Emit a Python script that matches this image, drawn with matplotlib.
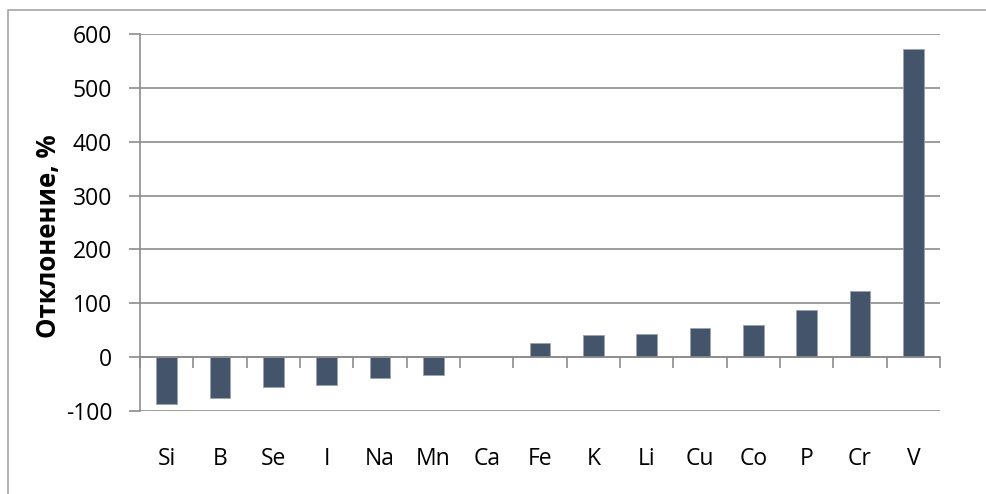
import matplotlib
matplotlib.use("Agg")
import matplotlib.pyplot as plt
from matplotlib.patches import Rectangle

categories = ["Si", "B", "Se", "I", "Na", "Mn", "Ca", "Fe", "K", "Li", "Cu", "Co", "P", "Cr", "V"]
values = [-88, -76, -55, -52, -40, -34, 0, 26, 40, 43, 53, 60, 87, 122, 572]
yticks = [-100, 0, 100, 200, 300, 400, 500, 600]
ylabel = "Отклонение, %"

plt.rcParams['font.family'] = ['Open Sans', 'DejaVu Sans']
GRID = "#8c8c8c"
BAR = "#44546A"

fig = plt.figure(figsize=(9.87, 4.94), dpi=100)
ax = fig.add_axes([140/987, 1 - 410.7/494, 800/987, (410.7 - 34.3)/494])

x = list(range(len(categories)))
ax.bar(x, values, width=0.39, color=BAR, edgecolor="#9aa3ae", linewidth=0.6, zorder=3)

ax.set_xlim(-0.5, len(categories) - 0.5)
ax.set_ylim(-100, 600)
ax.set_yticks(yticks)
ax.set_yticklabels([str(v) for v in yticks], fontsize=16.5)
ax.yaxis.grid(True, color=GRID, linewidth=1.2, zorder=0)
ax.tick_params(axis='y', length=8, color=GRID, width=1.2, pad=12)

for s in ["top", "right"]:
    ax.spines[s].set_visible(False)
ax.spines["left"].set_color(GRID)
ax.spines["left"].set_linewidth(1.2)
ax.spines["bottom"].set_position(("data", 0))
ax.spines["bottom"].set_color(GRID)
ax.spines["bottom"].set_linewidth(1.2)
ax.spines["bottom"].set_zorder(4)

bounds = [i - 0.5 for i in range(len(categories) + 1)]
ax.set_xticks(bounds)
ax.set_xticklabels([])
ax.tick_params(axis='x', length=8, color=GRID, width=1.2, direction='out')

sec = ax.secondary_xaxis('bottom')
sec.set_xticks(x)
sec.set_xticklabels(categories, fontsize=16.5)
sec.tick_params(length=0, pad=26)
sec.spines['bottom'].set_visible(False)

ax.set_ylabel(ylabel, fontsize=18.5, fontweight='bold')
ax.yaxis.set_label_coords(-0.0975, 0.463)

fig.patches.append(Rectangle((8/987, -0.1), 1.2, 1 - 10/494 + 0.1, transform=fig.transFigure,
                             fill=False, edgecolor="#a6a6a6", linewidth=1.2))

fig.savefig("out.png", dpi=100)
